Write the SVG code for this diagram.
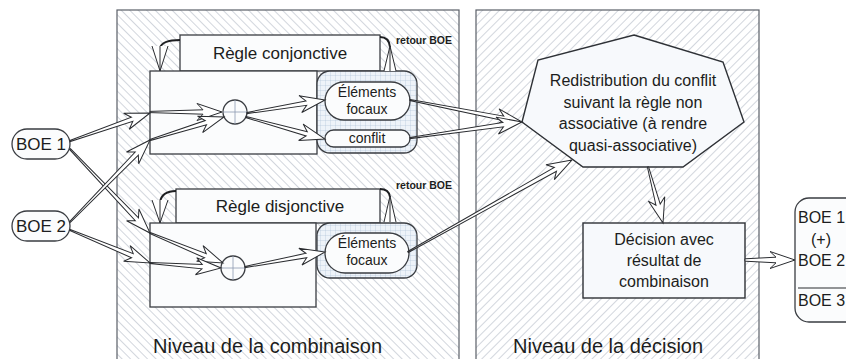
<svg xmlns="http://www.w3.org/2000/svg" width="846" height="359" viewBox="0 0 846 359">
  <defs>
    <pattern id="hatchBack" width="6" height="6" patternUnits="userSpaceOnUse" patternTransform="rotate(-45)">
      <line x1="0" y1="0" x2="0" y2="6" stroke="#adb4c0" stroke-width="1.1"/>
    </pattern>
    <pattern id="hatchFwd" width="6" height="6" patternUnits="userSpaceOnUse" patternTransform="rotate(45)">
      <line x1="0" y1="0" x2="0" y2="6" stroke="#adb4c0" stroke-width="1.1"/>
    </pattern>
    <pattern id="grid" width="5" height="5" patternUnits="userSpaceOnUse">
      <rect width="5" height="5" fill="#eef3f9"/>
      <path d="M5,0 L0,0 0,5" fill="none" stroke="#a8bbd3" stroke-width="0.6"/>
    </pattern>
  </defs>
  <style>
    .panel { stroke: #5a5f68; stroke-width: 1.2; }
    .box { fill: #fbfcfd; stroke: #3a3d42; stroke-width: 1.3; }
    .shape { fill: #f7f9fc; stroke: #2e3136; stroke-width: 1.4; }
    .gridbox { fill: url(#grid); stroke: #3a3d42; stroke-width: 1.3; }
    .arrow { fill: #ffffff; stroke: #2a2c30; stroke-width: 1; stroke-linejoin: miter; }
    .loop { fill: none; stroke: #1e1f22; stroke-width: 2; }
    .head { fill: #ffffff; stroke: #2a2c30; stroke-width: 1; }
    .cross { stroke: #8e9bb0; stroke-width: 0.8; }
    text { font-family: "Liberation Sans", Arial, sans-serif; fill: #1c1d20; }
    .t17 { font-size: 17px; }
    .t16 { font-size: 16px; }
    .t14 { font-size: 14px; }
    .small { font-size: 10.5px; font-weight: bold; }
    .level { font-size: 20px; }
  </style>

  <!-- background panels -->
  <g id="panel-combinaison">
    <rect x="117" y="10" width="342" height="360" fill="#ffffff"/>
    <rect class="panel" x="117" y="10" width="342" height="360" fill="url(#hatchBack)"/>
    <text class="level" x="153" y="353">Niveau de la combinaison</text>
  </g>
  <g id="panel-decision">
    <rect x="476" y="10" width="283" height="360" fill="#ffffff"/>
    <rect class="panel" x="476" y="10" width="283" height="360" fill="url(#hatchFwd)"/>
    <text class="level" x="513" y="353">Niveau de la décision</text>
  </g>

  <!-- inputs -->
  <g id="boe1">
    <rect class="box" x="12" y="129" width="58" height="30" rx="15"/>
    <text class="t17" x="41" y="150" text-anchor="middle">BOE 1</text>
  </g>
  <g id="boe2">
    <rect class="box" x="12" y="211" width="58" height="30" rx="15"/>
    <text class="t17" x="41" y="232" text-anchor="middle">BOE 2</text>
  </g>

  <!-- conjunctive rule -->
  <g id="regle-conjonctive">
    <rect class="box" x="180" y="35" width="200" height="36"/>
    <text class="t17" x="280" y="59" text-anchor="middle">Règle conjonctive</text>
  </g>
  <g id="bloc-conjonctif">
    <rect class="box" x="150" y="71" width="167" height="83"/>
  </g>
  <g id="op-conjonctif">
    <circle class="box" cx="235" cy="112" r="12"/>
    <line class="cross" x1="223" y1="112" x2="247" y2="112"/>
    <line class="cross" x1="235" y1="100" x2="235" y2="124"/>
  </g>
  <g id="sortie-conjonctive">
    <rect class="gridbox" x="317" y="71" width="100" height="82" rx="13"/>
    <rect class="box" x="325" y="82" width="85" height="38" rx="19"/>
    <text class="t14" x="367" y="97" text-anchor="middle">Éléments</text>
    <text class="t14" x="367" y="114" text-anchor="middle">focaux</text>
    <rect class="box" x="325" y="130" width="85" height="17" rx="8.5"/>
    <text class="t14" x="367" y="143" text-anchor="middle">conflit</text>
  </g>
  <g id="retour-conjonctif">
    <text class="small" x="396" y="44">retour BOE</text>
  </g>

  <!-- disjunctive rule -->
  <g id="regle-disjonctive">
    <rect class="box" x="176" y="189" width="204" height="34"/>
    <text class="t17" x="280" y="212" text-anchor="middle">Règle disjonctive</text>
  </g>
  <g id="bloc-disjonctif">
    <rect class="box" x="150" y="223" width="166" height="84"/>
  </g>
  <g id="op-disjonctif">
    <circle class="box" cx="233" cy="268" r="12"/>
    <line class="cross" x1="221" y1="268" x2="245" y2="268"/>
    <line class="cross" x1="233" y1="256" x2="233" y2="280"/>
  </g>
  <g id="sortie-disjonctive">
    <rect class="gridbox" x="317" y="223" width="100" height="55" rx="13"/>
    <rect class="box" x="325" y="233" width="84" height="40" rx="20"/>
    <text class="t14" x="367" y="248" text-anchor="middle">Éléments</text>
    <text class="t14" x="367" y="265" text-anchor="middle">focaux</text>
  </g>
  <g id="retour-disjonctif">
    <text class="small" x="396" y="189">retour BOE</text>
  </g>

  <!-- decision level -->
  <g id="redistribution">
    <polygon class="shape" points="634,35 723,62 744,122 683,167 583,167 522,122 538,60"/>
    <text class="t16" x="633" y="86" text-anchor="middle">Redistribution du conflit</text>
    <text class="t16" x="633" y="108" text-anchor="middle">suivant la règle non</text>
    <text class="t16" x="633" y="129" text-anchor="middle">associative (à rendre</text>
    <text class="t16" x="633" y="151" text-anchor="middle">quasi-associative)</text>
  </g>
  <g id="decision">
    <rect class="shape" x="583" y="223" width="162" height="75"/>
    <text class="t16" x="664" y="245" text-anchor="middle">Décision avec</text>
    <text class="t16" x="664" y="266" text-anchor="middle">résultat de</text>
    <text class="t16" x="664" y="287" text-anchor="middle">combinaison</text>
  </g>
  <g id="resultat">
    <rect class="box" x="795" y="198" width="80" height="124" rx="14"/>
    <text class="t16" x="798" y="223">BOE 1</text>
    <text class="t16" x="821" y="245" text-anchor="middle">(+)</text>
    <text class="t16" x="798" y="266">BOE 2</text>
    <line x1="798" y1="288" x2="846" y2="288" stroke="#2a2c30" stroke-width="1.2"/>
    <text class="t16" x="798" y="306">BOE 3</text>
  </g>

  <!-- connectors -->
  <g id="connectors">
    <!-- BOE inputs to the rule blocks -->
    <path class="arrow" transform="translate(70,149) rotate(46.4)" d="M0,-0.6 L97,-2.2 L91,-8.5 L116,0 L91,8.5 L97,2.2 L0,0.6 Z"/>
    <path class="arrow" transform="translate(70,222) rotate(-45.7)" d="M0,-0.6 L95.6,-2.2 L89.6,-8.5 L114.6,0 L89.6,8.5 L95.6,2.2 L0,0.6 Z"/>
    <path class="arrow" transform="translate(70,141) rotate(-19.29)" d="M0,-0.6 L65.8,-2.2 L59.8,-8.5 L84.8,0 L59.8,8.5 L65.8,2.2 L0,0.6 Z"/>
    <path class="arrow" transform="translate(70,230) rotate(22.4)" d="M0,-0.6 L67.5,-2.2 L61.5,-8.5 L86.5,0 L61.5,8.5 L67.5,2.2 L0,0.6 Z"/>

    <!-- into the combination operators -->
    <path class="arrow" transform="translate(150,112)" d="M0,-0.6 L53,-2.2 L47,-8.5 L72,0 L47,8.5 L53,2.2 L0,0.6 Z"/>
    <path class="arrow" transform="translate(150,140) rotate(-17.27)" d="M0,-0.6 L58.5,-2.2 L52.5,-8.5 L77.5,0 L52.5,8.5 L58.5,2.2 L0,0.6 Z"/>
    <path class="arrow" transform="translate(150,233) rotate(22.34)" d="M0,-0.6 L59.9,-2.2 L53.9,-8.5 L78.9,0 L53.9,8.5 L59.9,2.2 L0,0.6 Z"/>
    <path class="arrow" transform="translate(150,263) rotate(4.03)" d="M0,-0.6 L52.2,-2.2 L46.2,-8.5 L71.2,0 L46.2,8.5 L52.2,2.2 L0,0.6 Z"/>

    <!-- operator outputs -->
    <path class="arrow" transform="translate(247,113) rotate(-9.46)" d="M0,-0.6 L60.1,-2.2 L54.1,-8.5 L79.1,0 L54.1,8.5 L60.1,2.2 L0,0.6 Z"/>
    <path class="arrow" transform="translate(246,117) rotate(15.56)" d="M0,-0.6 L63,-2.2 L57,-8.5 L82,0 L57,8.5 L63,2.2 L0,0.6 Z"/>
    <path class="arrow" transform="translate(245,267) rotate(-10.62)" d="M0,-0.6 L62.4,-2.2 L56.4,-8.5 L81.4,0 L56.4,8.5 L62.4,2.2 L0,0.6 Z"/>

    <!-- to the redistribution step -->
    <path class="arrow" transform="translate(410,100) rotate(11.11)" d="M0,-0.6 L95.1,-2.2 L89.1,-8.5 L114.1,0 L89.1,8.5 L95.1,2.2 L0,0.6 Z"/>
    <path class="arrow" transform="translate(410,138) rotate(-8.13)" d="M0,-0.6 L94.1,-2.2 L88.1,-8.5 L113.1,0 L88.1,8.5 L94.1,2.2 L0,0.6 Z"/>
    <path class="arrow" transform="translate(408,252) rotate(-29.29)" d="M0,-0.6 L169,-2.2 L163,-8.5 L188,0 L163,8.5 L169,2.2 L0,0.6 Z"/>

    <!-- decision chain -->
    <path class="arrow" transform="translate(648,167) rotate(75)" d="M0,-0.6 L39,-2.2 L33,-8.5 L58,0 L33,8.5 L39,2.2 L0,0.6 Z"/>
    <path class="arrow" transform="translate(745,260)" d="M0,-1.2 L31,-2.8 L25,-8.5 L50,0 L25,8.5 L31,2.8 L0,1.2 Z"/>

    <!-- feedback loops (retour BOE) -->
    <path class="loop" d="M380,37 Q389,37 390,47"/>
    <path class="head" d="M384,71 L390,46 L396,71"/>
    <line x1="390" y1="46" x2="390" y2="71" stroke="#2a2c30" stroke-width="1"/>
    <path class="loop" d="M180,40 Q162,40 160,48"/>
    <path class="head" d="M152,46 L160,71 L168,46"/>
    <line x1="160" y1="46" x2="160" y2="71" stroke="#2a2c30" stroke-width="1"/>

    <path class="loop" d="M380,189 Q389,189 390,197"/>
    <path class="head" d="M384,222 L390,196 L396,222"/>
    <line x1="390" y1="196" x2="390" y2="222" stroke="#2a2c30" stroke-width="1"/>
    <path class="loop" d="M176,191 Q162,191 160,202"/>
    <path class="head" d="M152,200 L160,223 L168,200"/>
    <line x1="160" y1="200" x2="160" y2="223" stroke="#2a2c30" stroke-width="1"/>
  </g>
</svg>
